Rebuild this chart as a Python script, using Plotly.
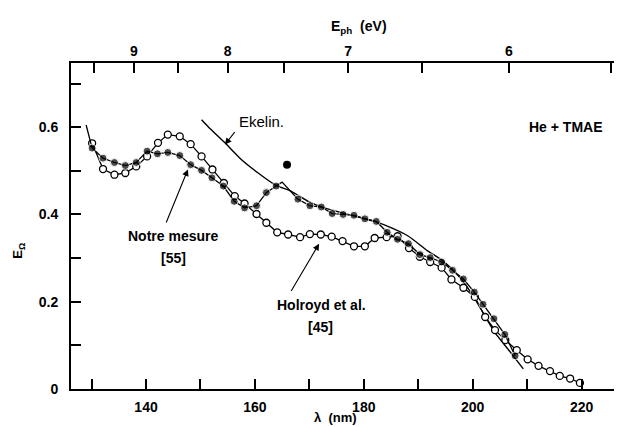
import plotly.graph_objects as go

# ---- data ----
holroyd_wl = [130.1, 132.1, 134.2, 136.2, 138.2, 140.2, 142.2, 144.0, 146.2, 148.2,
              150.2, 152.2, 154.3, 156.3, 158.1, 160.3, 162.1, 164.1, 166.1, 168.3,
              170.1, 172.1, 174.1, 176.1, 178.2, 180.2, 182.0, 184.2, 186.2, 188.3,
              190.3, 192.2, 194.3, 196.1, 198.3, 200.4, 202.3, 204.1, 206.0, 208.1,
              210.1, 212.1, 214.2, 216.0, 217.9, 219.7]
holroyd_eff = [0.563, 0.504, 0.491, 0.495, 0.510, 0.533, 0.564, 0.583, 0.579, 0.561,
               0.533, 0.503, 0.472, 0.442, 0.425, 0.401, 0.381, 0.359, 0.354, 0.348,
               0.355, 0.354, 0.349, 0.339, 0.327, 0.327, 0.346, 0.348, 0.350, 0.323,
               0.303, 0.291, 0.278, 0.251, 0.232, 0.211, 0.165, 0.135, 0.112, 0.089,
               0.068, 0.053, 0.041, 0.030, 0.024, 0.014]

notre_wl = [129.0, 130.1, 132.1, 134.2, 136.2, 138.2, 140.2, 142.1, 144.0, 146.2, 148.2,
            150.2, 152.1, 154.2, 156.2, 158.1, 160.3, 162.1, 163.9, 165.0, 167.9,
            170.1, 172.2, 174.2, 176.2, 178.2, 180.2, 182.3, 184.3, 186.2, 188.2,
            190.3, 192.2, 194.3, 196.3, 198.3, 200.3, 201.9, 203.9, 205.9, 207.8]
notre_eff = [0.605, 0.552, 0.529, 0.519, 0.512, 0.519, 0.545, 0.539, 0.542, 0.535, 0.514,
             0.501, 0.484, 0.465, 0.430, 0.415, 0.420, 0.450, 0.465, 0.474, 0.435,
             0.420, 0.417, 0.402, 0.400, 0.398, 0.390, 0.384, 0.359, 0.343, 0.333,
             0.308, 0.301, 0.291, 0.272, 0.252, 0.222, 0.194, 0.161, 0.125, 0.076]
# vertices of the drawn line that carry no measured point
notre_line_only = [129.0, 165.0]

isolated_wl = [165.9]
isolated_eff = [0.514]

ekelin_wl = [150.2, 151.5, 154.5, 157.5, 160.6, 163.7, 166.7, 169.8, 172.8, 175.9,
             179.0, 182.0, 185.1, 188.2, 191.8, 194.6, 197.7, 200.1, 201.9, 204.1,
             206.5, 209.3]
ekelin_eff = [0.617, 0.600, 0.564, 0.526, 0.495, 0.468, 0.453, 0.430, 0.415, 0.404,
              0.394, 0.384, 0.369, 0.350, 0.316, 0.293, 0.255, 0.213, 0.175, 0.129,
              0.091, 0.046]

x_major = [140, 160, 180, 200, 220]
x_major_labels = ["140", "160", "180", "200", "220"]
x_minor = [130, 150, 170, 190, 210]
y_major = [0, 0.2, 0.4, 0.6]
y_major_labels = ["0", "0.2", "0.4", "0.6"]
y_minor = [0.1, 0.3, 0.5, 0.7]
e_major = [9, 8, 7, 6]
e_major_labels = ["9", "8", "7", "6"]
e_minor = [9.5, 8.5, 7.5, 6.5, 5.5]
HC = 1239.84  # eV*nm

FONT = "Liberation Sans"
INK = "black"
W, H = 622, 427
ML, MR, MT, MB = 63, 0, 55, 45.5

fig = go.Figure()

fig.add_trace(go.Scatter(x=ekelin_wl, y=ekelin_eff, mode="lines",
                         line=dict(color=INK, width=1.4, shape="spline", smoothing=0.6),
                         showlegend=False, hoverinfo="skip"))
fig.add_trace(go.Scatter(x=holroyd_wl, y=holroyd_eff, mode="lines+markers",
                         line=dict(color=INK, width=1.3),
                         marker=dict(symbol="circle", size=7, color="white",
                                     line=dict(color=INK, width=1.3)),
                         showlegend=False))
sizes = [0 if w in notre_line_only else 8 for w in notre_wl]
fig.add_trace(go.Scatter(x=notre_wl, y=notre_eff, mode="lines+markers",
                         line=dict(color=INK, width=1.3),
                         marker=dict(symbol="circle", size=sizes, color=INK),
                         showlegend=False))
fig.add_trace(go.Scatter(x=isolated_wl, y=isolated_eff, mode="markers",
                         marker=dict(symbol="circle", size=8, color=INK),
                         showlegend=False))
fig.add_trace(go.Scatter(x=[HC / 7], y=[0.3], xaxis="x2", mode="markers",
                         marker=dict(opacity=0), showlegend=False, hoverinfo="skip"))

X_RANGE = [126.22, 228.9]
Y_RANGE = [0, 0.747]
TF = dict(family=FONT, size=14, weight="bold", color=INK)
AX = dict(showgrid=False, zeroline=False, showline=True, linecolor=INK,
          linewidth=1.8, ticks="inside", ticklen=10, tickwidth=1.5, tickcolor=INK,
          tickfont=TF)
MINOR = dict(ticks="inside", ticklen=10, tickwidth=1.5, tickcolor=INK, showgrid=False)

fig.update_layout(
    width=W, height=H,
    margin=dict(l=ML, r=MR, t=MT, b=MB),
    paper_bgcolor="white", plot_bgcolor="white",
    font=dict(family=FONT, size=14, color=INK),
    showlegend=False,
    xaxis=dict(range=X_RANGE, tickvals=x_major, ticktext=x_major_labels,
               minor=dict(tickvals=x_minor, **MINOR), ticklabelstandoff=4, **AX),
    xaxis2=dict(range=X_RANGE, overlaying="x", side="top", anchor="y",
                tickvals=[HC / e for e in e_major], ticktext=e_major_labels,
                minor=dict(tickvals=[HC / e for e in e_minor], **MINOR), **AX),
    yaxis=dict(range=Y_RANGE, tickvals=y_major, ticktext=y_major_labels,
               minor=dict(tickvals=y_minor, **MINOR), ticklabelstandoff=8, **AX),
)

plot_w, plot_h = W - ML - MR, H - MT - MB


def px_to_paper(px, py):
    return (px - ML) / plot_w, (H - MB - py) / plot_h


def add_px_text(px, py, text, angle=0, size=14, weight="bold"):
    x, y = px_to_paper(px, py)
    fig.add_annotation(x=x, y=y, xref="paper", yref="paper", text=text,
                       showarrow=False, textangle=angle, xanchor="center",
                       yanchor="middle", font=dict(family=FONT, size=size,
                                                   weight=weight, color=INK))


def add_data_text(x, y, text, size=14, weight="bold"):
    fig.add_annotation(x=x, y=y, xref="x", yref="y", text=text, showarrow=False,
                       xanchor="center", yanchor="middle",
                       font=dict(family=FONT, size=size, weight=weight, color=INK))


add_px_text(327, 410, "λ&nbsp;&nbsp;(nm)", size=13)
add_px_text(351, 19, "E<sub>ph</sub>&nbsp;&nbsp;(eV)")
add_px_text(11, 243, "E<sub>Ω</sub>", angle=-90, size=13)

add_data_text(161.3, 0.612, "Ekelin.", size=15, weight="normal")
add_data_text(217.1, 0.600, "He + TMAE")
add_data_text(145.0, 0.351, "Notre mesure")
add_data_text(145.0, 0.300, "[55]")
add_data_text(172.3, 0.193, "Holroyd et al.")
add_data_text(172.0, 0.143, "[45]")

arrows = [
    ((156.5, 0.592), (154.5, 0.560)),
    ((143.6, 0.378), (147.7, 0.503)),
    ((166.5, 0.221), (171.8, 0.333)),
]
for (tx, ty), (hx, hy) in arrows:
    fig.add_annotation(x=hx, y=hy, ax=tx, ay=ty, xref="x", yref="y", axref="x",
                       ayref="y", text="", showarrow=True, arrowhead=2,
                       arrowsize=1.2, arrowwidth=1.1, arrowcolor=INK)

fig.write_html("out.html")
